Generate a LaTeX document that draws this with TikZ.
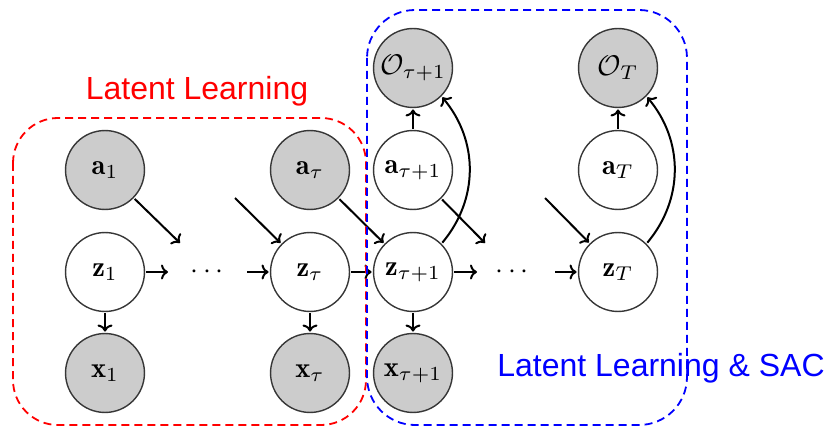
\documentclass[tikz,border=0pt]{standalone}
\usepackage{fontspec}
\newfontfamily\labelfont{Liberation Sans}
\usetikzlibrary{arrows.meta}
\definecolor{nodegray}{RGB}{204,204,204}
\definecolor{edgegray}{RGB}{55,55,55}
\tikzset{
  var/.style={circle, draw=edgegray, line width=1.4pt, minimum size=27.7pt, inner sep=0pt,
              scale=2.85},
  obs/.style={var, fill=nodegray},
  hid/.style={var, fill=white},
  edge/.style={line width=2pt, -{To[length=7pt,width=15pt]}},
  dotsnode/.style={scale=2.85, inner sep=0pt},
  redbox/.style={draw=red, line width=1.8pt, dash pattern=on 8pt off 5pt, rounded corners=45pt},
  bluebox/.style={draw=blue, line width=1.8pt, dash pattern=on 8pt off 5pt, rounded corners=48pt},
  boxlabel/.style={font=\labelfont\fontsize{32}{38}\selectfont, inner sep=0pt, anchor=base}
}
\begin{document}
\begin{tikzpicture}[x=1pt, y=-1pt]
\useasboundingbox (0,0) rectangle (829,427);
% nodes
\node[obs] (a1) at (105,170) {$\mathbf{a}_1$};
\node[hid] (z1) at (105,272) {$\mathbf{z}_1$};
\node[obs] (x1) at (105,373) {$\mathbf{x}_1$};
\node[obs] (at) at (310,170) {$\mathbf{a}_\tau$};
\node[hid] (zt) at (310,272) {$\mathbf{z}_\tau$};
\node[obs] (xt) at (310,373) {$\mathbf{x}_\tau$};
\node[obs] (Otp) at (413,68) {$\mathcal{O}_{\tau+1}$};
\node[hid] (atp) at (413,170) {$\mathbf{a}_{\tau+1}$};
\node[hid] (ztp) at (413,272) {$\mathbf{z}_{\tau+1}$};
\node[obs] (xtp) at (413,373) {$\mathbf{x}_{\tau+1}$};
\node[obs] (OT) at (618,68) {$\mathcal{O}_{T}$};
\node[hid] (aT) at (618,170) {$\mathbf{a}_{T}$};
\node[hid] (zT) at (618,272) {$\mathbf{z}_{T}$};
\node[dotsnode] (d1) at (207,272) {$\cdots$};
\node[dotsnode] (d2) at (512,272) {$\cdots$};
% free ends
\coordinate (c1) at (180,243);
\coordinate (c2) at (235,198);
\coordinate (c3) at (485,243);
\coordinate (c4) at (545,198);
\coordinate (h1) at (168,272);
\coordinate (h2) at (247,272);
\coordinate (h3) at (477,272);
\coordinate (h4) at (555,272);
% edges
\draw[edge] (a1) -- (c1);
\draw[edge] (c2) -- (zt);
\draw[edge] (at) -- (ztp);
\draw[edge] (atp) -- (c3);
\draw[edge] (c4) -- (zT);
\draw[edge] (z1) -- (h1);
\draw[edge] (h2) -- (zt);
\draw[edge] (zt) -- (ztp);
\draw[edge] (ztp) -- (h3);
\draw[edge] (h4) -- (zT);
\draw[edge] (z1) -- (x1);
\draw[edge] (zt) -- (xt);
\draw[edge] (ztp) -- (xtp);
\draw[edge] (atp) -- (Otp);
\draw[edge] (aT) -- (OT);
\draw[edge] (ztp.45) to[bend right=40] (Otp.-45);
\draw[edge] (zT.45) to[bend right=40] (OT.-45);
% boxes
\draw[redbox] (13,118) rectangle (366,425);
\draw[bluebox] (367,10) rectangle (687,425);
% labels
\node[boxlabel, text=red] (lab1) at (197,100) {Latent Learning};
\node[boxlabel, text=blue] (lab2) at (661,376) {Latent Learning \& SAC};
\end{tikzpicture}
\end{document}
